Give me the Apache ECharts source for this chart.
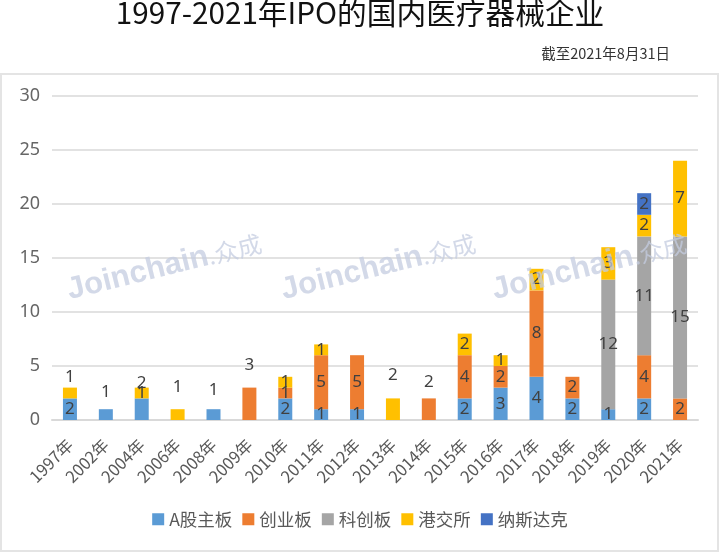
<!DOCTYPE html>
<html lang="zh">
<head>
<meta charset="UTF-8">
<title>1997-2021年IPO的国内医疗器械企业</title>
<script src="https://cdn.jsdelivr.net/npm/echarts@6/dist/echarts.min.js"></script>
<style>html,body{margin:0;background:#fff}</style>
</head>
<body>
<div id="main" style="width:720px;height:553px;"></div>
<script>
var years = ['1997年','2002年','2004年','2006年','2008年','2009年','2010年','2011年','2012年','2013年','2014年','2015年','2016年','2017年','2018年','2019年','2020年','2021年'];
var aMain  = [2,1,2,0,1,0,2,1,1,0,0,2,3,4,2,1,2,0];
var chinext = [0,0,0,0,0,3,1,5,5,0,2,4,2,8,2,0,4,2];
var star   = [0,0,0,0,0,0,0,0,0,0,0,0,0,0,0,12,11,15];
var hkex   = [1,0,1,1,0,0,1,1,0,2,0,2,1,2,0,3,2,7];
var nasdaq = [0,0,0,0,0,0,0,0,0,0,0,0,0,0,0,0,2,0];

// labels that sit above the bar in the source, gap in px
var aboveGap = {
    '港交所': {'1997年': 2, '2006年': 14, '2013年': 15},
    'A股主板': {'2002年': 9, '2004年': 7, '2008年': 11},
    '创业板': {'2009年': 14, '2014年': 8}
};

function makeSeries(name, values, color) {
    return {
        name: name,
        type: 'bar',
        stack: 'total',
        barWidth: 14,
        itemStyle: {color: color},
        data: values.map(function (v, i) {
            var gap = aboveGap[name] && aboveGap[name][years[i]];
            return gap === undefined ? v : {value: v, label: {position: 'top', distance: gap}};
        }),
        label: {
            show: true,
            position: 'inside',
            color: '#404040',
            fontSize: 17,
            fontFamily: 'Noto Sans',
            formatter: function (p) {
                return (p.value === 0) ? '' : p.value;
            }
        }
    };
}

function mark(x, y) {
    return {
        type: 'text',
        x: x,
        y: y,
        rotation: 14 * Math.PI / 180,
        z: 20,
        style: {
            text: '{a|Joinchain}{b|.众成}',
            rich: {
                a: {fontSize: 31, fontWeight: 'bold', fontFamily: 'Liberation Sans', fill: 'rgba(196,204,224,0.75)'},
                b: {fontSize: 24, fontFamily: 'Noto Sans CJK SC', fill: 'rgba(196,204,224,0.75)'}
            }
        }
    };
}

var myChart = echarts.init(document.getElementById('main'));
myChart.setOption({
    animation: false,
    backgroundColor: '#fff',
    textStyle: {fontFamily: 'Noto Sans CJK SC'},
    title: [{
        text: '1997-2021年IPO的国内医疗器械企业',
        left: 'center',
        top: -7,
        textStyle: {fontSize: 29.7, fontWeight: 'normal', color: '#111', fontFamily: 'Noto Sans CJK SC'}
    }, {
        text: '截至2021年8月31日',
        right: 45,
        top: 41,
        textStyle: {fontSize: 14.5, fontWeight: 'normal', color: '#333', fontFamily: 'Noto Sans CJK SC'}
    }],
    grid: {left: 52, right: 22, top: 96, bottom: 133},
    legend: {
        bottom: 20,
        left: 'center',
        icon: 'rect',
        itemWidth: 12,
        itemHeight: 12,
        itemGap: 10,
        textStyle: {fontSize: 17.5, color: '#595959', fontFamily: 'Noto Sans CJK SC'},
        data: ['A股主板','创业板','科创板','港交所','纳斯达克']
    },
    xAxis: {
        type: 'category',
        data: years,
        axisTick: {show: false},
        axisLine: {lineStyle: {color: '#d9d9d9', width: 2}},
        axisLabel: {rotate: 45, interval: 0, fontSize: 16.5, color: '#595959', margin: 22, fontFamily: 'Noto Sans CJK SC'}
    },
    yAxis: {
        type: 'value',
        min: 0,
        max: 30,
        interval: 5,
        axisLine: {show: false},
        axisTick: {show: false},
        axisLabel: {fontSize: 18, color: '#666', margin: 12, fontFamily: 'Noto Sans'},
        splitLine: {lineStyle: {color: '#d9d9d9', width: 1.5}}
    },
    series: [
        makeSeries('A股主板', aMain, '#5b9bd5'),
        makeSeries('创业板', chinext, '#ed7d31'),
        makeSeries('科创板', star, '#a5a5a5'),
        makeSeries('港交所', hkex, '#ffc000'),
        makeSeries('纳斯达克', nasdaq, '#4472c4')
    ],
    graphic: [
        {type: 'rect', silent: true, z: -1, shape: {x: 1, y: 74, width: 717, height: 477},
            style: {fill: 'none', stroke: '#e4e4e4', lineWidth: 2}},
        mark(64, 276),
        mark(278, 276),
        mark(489, 276)
    ]
});
</script>
</body>
</html>
